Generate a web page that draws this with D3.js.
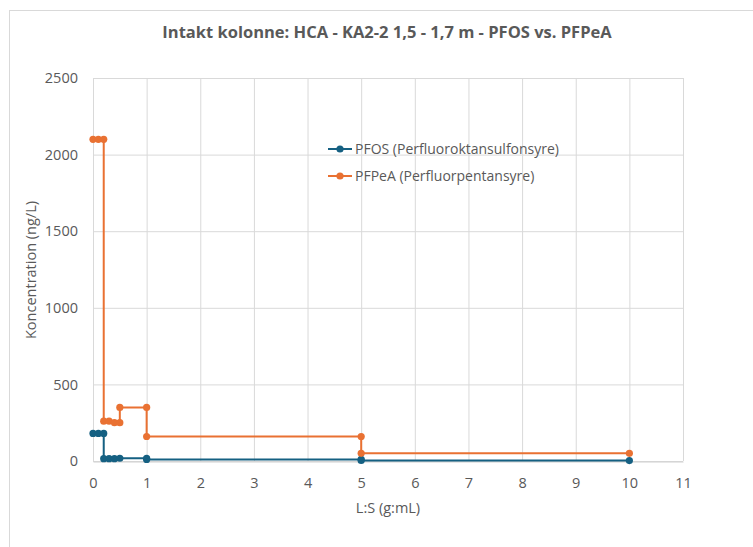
<html lang="en">
<head>
<meta charset="UTF-8">
<title>PFOS vs. PFPeA</title>
<script src="https://cdn.jsdelivr.net/npm/d3@7"></script>
<style>
  body { margin: 0; background: #fff; }
  text { font-family: "Open Sans", "Noto Sans", sans-serif; fill: #595959; }
</style>
</head>
<body>
<script>
// L:S values (x) and concentrations (y)
var pfosX = [0, 0.1, 0.2, 0.2, 0.3, 0.4, 0.5, 1, 1, 5, 5, 10];
var pfosY = [180, 180, 180, 15, 15, 15, 18, 18, 10, 10, 4, 3];
var pfpeaX = [0, 0.1, 0.2, 0.2, 0.3, 0.4, 0.5, 0.5, 1, 1, 5, 5, 10];
var pfpeaY = [2100, 2100, 2100, 260, 260, 250, 250, 350, 350, 160, 160, 50, 50];
var xTicks = [0, 1, 2, 3, 4, 5, 6, 7, 8, 9, 10, 11];
var yTicks = [0, 500, 1000, 1500, 2000, 2500];

var seriesNames = ["PFOS (Perfluoroktansulfonsyre)", "PFPeA (Perfluorpentansyre)"];
var colors = ["#156082", "#E97132"];

var width = 753, height = 547;
var plotLeft = 93, plotRight = 683, plotTop = 78, plotBottom = 461;

var svg = d3.select("body").append("svg")
    .attr("width", width)
    .attr("height", height);

// outer chart frame
svg.append("rect")
    .attr("x", 9.5).attr("y", 10.5)
    .attr("width", 760).attr("height", 560)
    .attr("fill", "none")
    .attr("stroke", "#d9d9d9");

var x = d3.scaleLinear().domain([0, 11]).range([plotLeft, plotRight]);
var y = d3.scaleLinear().domain([0, 2500]).range([plotBottom, plotTop]);

// grid
svg.append("g").selectAll("line").data(yTicks).enter().append("line")
    .attr("x1", plotLeft).attr("x2", plotRight)
    .attr("y1", d => y(d) + 0.5).attr("y2", d => y(d) + 0.5)
    .attr("stroke", "#d9d9d9");
svg.append("g").selectAll("line").data(xTicks).enter().append("line")
    .attr("x1", d => x(d) + 0.5).attr("x2", d => x(d) + 0.5)
    .attr("y1", plotTop).attr("y2", plotBottom)
    .attr("stroke", "#d9d9d9");

// axes
var xAxis = svg.append("g")
    .attr("transform", "translate(0," + (plotBottom + 0.5) + ")")
    .call(d3.axisBottom(x).tickValues(xTicks).tickSize(0).tickPadding(16));
xAxis.select(".domain").attr("stroke", "#d0d0d0");
var yAxis = svg.append("g")
    .attr("transform", "translate(" + plotLeft + ",0)")
    .call(d3.axisLeft(y).tickValues(yTicks).tickFormat(d3.format("d")).tickSize(0).tickPadding(15));
yAxis.select(".domain").remove();
svg.selectAll(".tick text")
    .style("font-size", "14.5px")
    .attr("fill", "#595959")
    .style("font-family", "'Open Sans', sans-serif");

// series
var series = [
    d3.zip(pfosX, pfosY),
    d3.zip(pfpeaX, pfpeaY)
];
var line = d3.line().x(d => x(d[0])).y(d => y(d[1]));

series.forEach(function (s, i) {
    svg.append("path")
        .datum(s)
        .attr("d", line)
        .attr("fill", "none")
        .attr("stroke", colors[i])
        .attr("stroke-width", 2);
    svg.append("g").selectAll("circle").data(s).enter().append("circle")
        .attr("cx", d => x(d[0]))
        .attr("cy", d => y(d[1]))
        .attr("r", 3.6)
        .attr("fill", colors[i]);
});

// title
svg.append("text")
    .attr("x", 387).attr("y", 38)
    .attr("text-anchor", "middle")
    .style("font-size", "16.5px")
    .style("font-weight", "bold")
    .text("Intakt kolonne: HCA - KA2-2 1,5 - 1,7 m - PFOS vs. PFPeA");

// axis titles
svg.append("text")
    .attr("x", 388).attr("y", 513)
    .attr("text-anchor", "middle")
    .style("font-size", "14.5px")
    .text("L:S (g:mL)");
svg.append("text")
    .attr("transform", "translate(36,270) rotate(-90)")
    .attr("text-anchor", "middle")
    .style("font-size", "14.5px")
    .text("Koncentration (ng/L)");

// legend
var legend = svg.append("g").selectAll("g").data(seriesNames).enter().append("g")
    .attr("transform", (d, i) => "translate(328," + (149 + i * 27) + ")");
legend.append("line")
    .attr("x1", 0).attr("x2", 24)
    .attr("stroke", (d, i) => colors[i])
    .attr("stroke-width", 2);
legend.append("circle")
    .attr("cx", 12).attr("r", 3.6)
    .attr("fill", (d, i) => colors[i]);
legend.append("text")
    .attr("x", 27).attr("y", 5)
    .style("font-size", "14px")
    .text(d => d);
</script>
</body>
</html>
